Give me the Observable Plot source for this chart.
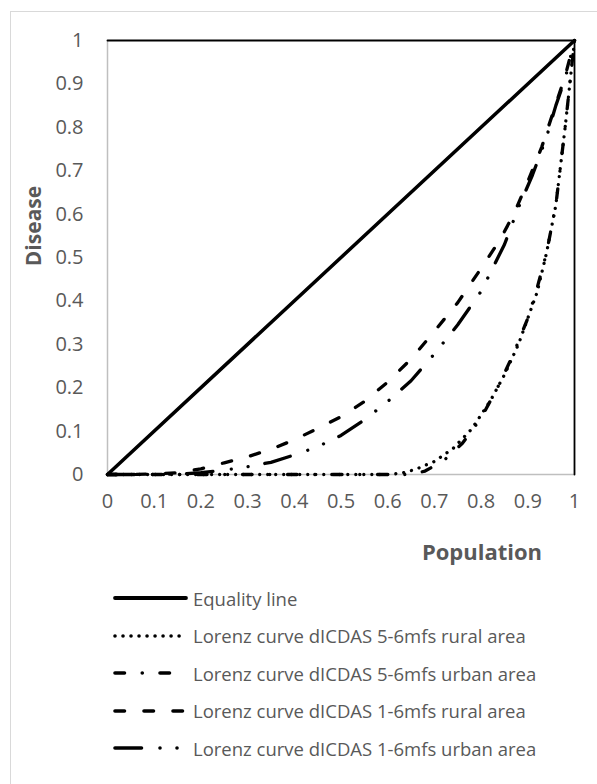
<!DOCTYPE html>
<html>
<head>
<meta charset="utf-8">
<script src="https://cdn.jsdelivr.net/npm/d3@7"></script>
<script src="https://cdn.jsdelivr.net/npm/@observablehq/plot@0.6"></script>
<style>
html, body { margin: 0; padding: 0; background: #fff; overflow: hidden; }
#wrap { position: relative; width: 597px; height: 784px; font-family: "Open Sans", sans-serif; color: #595959; overflow: hidden; }
#frame { position: absolute; left: 10px; top: 11px; width: 640px; height: 840px; border: 1px solid #d9d9d9; box-sizing: border-box; }
#chart { position: absolute; left: 0; top: 0; }
.ttl { position: absolute; font-weight: bold; white-space: nowrap; color: #595959; }
#ytitle { font-size: 21px; left: 33px; top: 226px; transform: translate(-50%, -50%) rotate(-90deg); }
#xtitle { font-size: 22px; left: 482px; top: 551px; transform: translate(-50%, -50%); }
.leg { position: absolute; left: 113px; height: 20px; display: flex; align-items: center; white-space: nowrap; font-size: 18.5px; color: #595959; transform: translateY(-50%); }
.leg svg { display: block; margin-right: 4px; }
</style>
</head>
<body>
<div id="wrap">
  <div id="frame"></div>
  <div id="chart"></div>
  <div id="ytitle" class="ttl">Disease</div>
  <div id="xtitle" class="ttl">Population</div>
  <div id="legend"></div>
</div>
<script>
// ---- data ----
const xTicks = [0, 0.1, 0.2, 0.3, 0.4, 0.5, 0.6, 0.7, 0.8, 0.9, 1];
const xTickLabels = ["0", "0.1", "0.2", "0.3", "0.4", "0.5", "0.6", "0.7", "0.8", "0.9", "1"];
const yTicks = [0, 0.1, 0.2, 0.3, 0.4, 0.5, 0.6, 0.7, 0.8, 0.9, 1];
const yTickLabels = ["0", "0.1", "0.2", "0.3", "0.4", "0.5", "0.6", "0.7", "0.8", "0.9", "1"];

const seriesNames = [
  "Equality line",
  "Lorenz curve dICDAS 5-6mfs rural area",
  "Lorenz curve dICDAS 5-6mfs urban area",
  "Lorenz curve dICDAS 1-6mfs rural area",
  "Lorenz curve dICDAS 1-6mfs urban area"
];

const boundaryX = [0, 1, 1];
const boundaryY = [1, 1, 0];

const equalityX = [0, 1];
const equalityY = [0, 1];

const rural56X = [0, 0.1, 0.2, 0.3, 0.4, 0.5, 0.6, 0.63, 0.66, 0.70, 0.74, 0.78, 0.82, 0.85, 0.88, 0.90, 0.92, 0.94, 0.96, 0.98, 0.99, 1];
const rural56Y = [0, 0, 0, 0, 0, 0, 0, 0.003, 0.012, 0.03, 0.06, 0.105, 0.17, 0.23, 0.30, 0.36, 0.42, 0.51, 0.62, 0.80, 0.90, 1];

const urban56X = [0, 0.2, 0.4, 0.6, 0.65, 0.68, 0.72, 0.76, 0.80, 0.84, 0.87, 0.90, 0.92, 0.94, 0.96, 0.98, 0.99, 1];
const urban56Y = [0, 0, 0, 0, 0, 0.008, 0.032, 0.072, 0.13, 0.21, 0.28, 0.36, 0.43, 0.51, 0.62, 0.80, 0.90, 1];

const rural16X = [0, 0.05, 0.10, 0.15, 0.20, 0.25, 0.30, 0.35, 0.40, 0.45, 0.50, 0.55, 0.60, 0.65, 0.70, 0.75, 0.80, 0.84, 0.87, 0.90, 0.93, 0.96, 0.98, 1];
const rural16Y = [0, 0, 0.001, 0.004, 0.013, 0.027, 0.041, 0.058, 0.08, 0.106, 0.133, 0.168, 0.213, 0.266, 0.33, 0.396, 0.475, 0.54, 0.60, 0.675, 0.755, 0.853, 0.918, 1];

const urban16X = [0, 0.05, 0.10, 0.15, 0.20, 0.25, 0.30, 0.35, 0.40, 0.45, 0.50, 0.55, 0.60, 0.65, 0.70, 0.75, 0.80, 0.85, 0.88, 0.91, 0.94, 0.96, 0.98, 1];
const urban16Y = [0, 0, 0, 0.001, 0.004, 0.01, 0.018, 0.028, 0.045, 0.064, 0.09, 0.126, 0.168, 0.216, 0.278, 0.345, 0.422, 0.53, 0.615, 0.69, 0.777, 0.85, 0.912, 1];

// ---- styles ----
const dashes = [null, "0.01 8", "9.5 17.75 0.01 17.75", "9.5 19.5", "26.5 18.5 0.01 17 0.01 17"];
const widths = [3.5, 3.3, 3.3, 3.3, 3.3];

const toPts = (xs, ys) => xs.map((x, i) => ({x, y: ys[i]}));
const seriesData = [
  toPts(equalityX, equalityY),
  toPts(rural56X, rural56Y),
  toPts(urban56X, urban56Y),
  toPts(rural16X, rural16Y),
  toPts(urban16X, urban16Y)
];

const marks = [
  Plot.ruleX([0], {stroke: "#bfbfbf", strokeWidth: 1.5}),
  Plot.ruleY([0], {stroke: "#bfbfbf", strokeWidth: 1.5}),
  Plot.line(toPts(boundaryX, boundaryY), {x: "x", y: "y", stroke: "black", strokeWidth: 1.8}),
  Plot.axisY({ticks: yTicks, tickSize: 0, tickPadding: 24, tickFormat: (d, i) => yTickLabels[i], label: null}),
  Plot.axisX({ticks: xTicks, tickSize: 0, tickPadding: 19, tickFormat: (d, i) => xTickLabels[i], label: null})
];
seriesData.forEach((pts, i) => {
  marks.push(Plot.line(pts, {
    x: "x", y: "y", stroke: "black", strokeWidth: widths[i],
    strokeDasharray: dashes[i] || undefined, strokeLinecap: "round", strokeLinejoin: "round", curve: "linear"
  }));
});

const plot = Plot.plot({
  width: 597,
  height: 580,
  marginTop: 40,
  marginBottom: 106,
  marginLeft: 107,
  marginRight: 23,
  x: {domain: [0, 1]},
  y: {domain: [0, 1]},
  style: {fontSize: "20px", fontFamily: "'Open Sans', sans-serif", color: "#595959", background: "transparent", overflow: "visible"},
  marks
});
document.getElementById("chart").appendChild(plot);

// ---- legend ----
const legendY = [598, 635.5, 673, 710.5, 748];
const legend = document.getElementById("legend");
seriesNames.forEach((name, i) => {
  const row = document.createElement("div");
  row.className = "leg";
  row.style.top = legendY[i] + "px";
  const svg = d3.create("svg").attr("width", 76).attr("height", 10);
  svg.append("line").attr("x1", 2).attr("x2", 73).attr("y1", 5).attr("y2", 5)
    .attr("stroke", "black").attr("stroke-width", widths[i] + 0.3)
    .attr("stroke-linecap", "round")
    .attr("stroke-dasharray", dashes[i]);
  row.appendChild(svg.node());
  const span = document.createElement("span");
  span.textContent = name;
  row.appendChild(span);
  legend.appendChild(row);
});
</script>
</body>
</html>
